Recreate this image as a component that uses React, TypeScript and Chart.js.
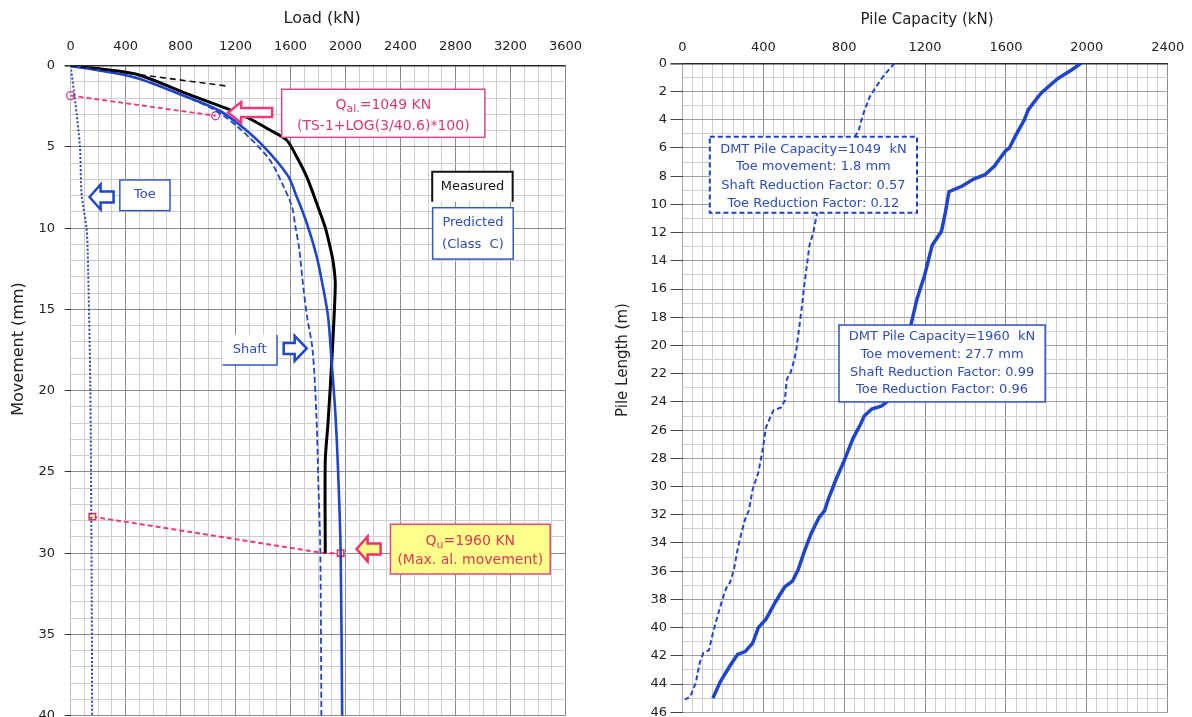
import React, { useEffect, useRef } from "react";
import { Chart, registerables } from "chart.js";

Chart.register(...registerables);

const FONT = '"DejaVu Sans", Verdana, sans-serif';

// ---------------- Left chart : Load (kN) vs Movement (mm) ----------------
const loadMin = 0;
const loadMax = 3600;
const loadLabelStep = 400;
const loadMinorStep = 100;
const moveMin = 0;
const moveMax = 40;
const moveLabelStep = 5;
const moveMinorStep = 1;

const measuredLoad = [0, 465, 854, 1133, 1300, 1450, 1571, 1644, 1717, 1790, 1850, 1887, 1911, 1925, 1900, 1872, 1852, 1852];
const measuredMove = [0, 0.5, 1.75, 2.63, 3.25, 3.96, 4.57, 5.6, 6.83, 8.47, 9.9, 11.14, 12.16, 13.5, 18.1, 22.0, 24.3, 30.0];

const predictedLoad = [0, 465, 800, 1077, 1217, 1384, 1579, 1644, 1692, 1741, 1790, 1826, 1872, 1900, 1927, 1947, 1964, 1975];
const predictedMove = [0, 0.72, 1.77, 2.74, 3.56, 4.8, 6.75, 8.06, 9.08, 10.3, 11.75, 13.2, 15.4, 18.4, 21.6, 25.3, 29.9, 40];

const shaftLoad = [0, 465, 800, 1050, 1217, 1440, 1550, 1610, 1635, 1663, 1692, 1719, 1760, 1788, 1802, 1816, 1824];
const shaftMove = [0, 0.72, 1.77, 2.74, 3.77, 5.7, 7.45, 8.68, 9.9, 11.3, 13.6, 15.4, 17.5, 21.6, 25.7, 29.8, 40];

const toeLoad = [0, 32, 68, 80, 116, 124, 143, 152, 157];
const toeMove = [0, 2.1, 5, 7.9, 10, 11.3, 19.5, 29.9, 40];

const tangentLoad = [0, 1135];
const tangentMove = [0, 1.25];

const qalLoad = [0, 1055];
const qalMove = [1.84, 3.08];

const quLoad = [158, 1850, 1964];
const quMove = [27.75, 30, 30];

// ---------------- Right chart : Pile Capacity (kN) vs Pile Length (m) ----------------
const capMin = 0;
const capMax = 2400;
const capLabelStep = 400;
const capMinorStep = 50;
const lenMin = 0;
const lenMax = 46;
const lenLabelStep = 2;
const lenMinorStep = 1;

const cap1960Load = [1971, 1924, 1859, 1822, 1775, 1747, 1710, 1691, 1645, 1617, 1598, 1542, 1496, 1440, 1384, 1318, 1300, 1281, 1235, 1197, 1160, 1132, 1011, 983, 936, 899, 880, 843, 796, 759, 721, 703, 675, 637, 600, 572, 544, 506, 459, 413, 375, 347, 310, 272, 235, 188, 150];
const cap1960Depth = [0, 0.47, 1.06, 1.5, 2.1, 2.6, 3.3, 4.0, 5.2, 6.0, 6.2, 7.3, 7.9, 8.2, 8.7, 9.1, 10.6, 11.9, 12.9, 15.06, 16.7, 18.4, 24.0, 24.3, 24.5, 25.0, 25.6, 26.6, 28.3, 29.5, 30.9, 31.7, 32.2, 33.3, 34.7, 35.9, 36.7, 37.1, 38.2, 39.4, 40.0, 41.1, 41.7, 41.9, 42.7, 43.8, 45.0];

const cap1049Load = [1048, 1020, 992, 964, 927, 908, 890, 871, 852, 666, 647, 628, 615, 600, 591, 563, 555, 535, 516, 506, 488, 450, 431, 413, 394, 375, 347, 328, 310, 291, 272, 254, 235, 216, 197, 169, 150, 131, 103, 85, 66, 38, 12];
const cap1049Depth = [0, 0.47, 0.94, 1.53, 2.35, 3.06, 3.76, 4.8, 5.2, 10.6, 12.0, 12.9, 14.35, 16.0, 17.2, 20.3, 20.9, 21.9, 22.4, 23.9, 24.4, 24.6, 25.2, 25.8, 27.6, 29.0, 30.2, 31.7, 32.3, 33.3, 34.5, 35.9, 36.8, 37.2, 38.0, 39.4, 40.4, 41.6, 41.8, 42.5, 43.9, 44.9, 45.1];

// ---------------- annotation anchors (data units) ----------------
const QAL_BOX = { x0: 1535, x1: 3013, y0: 1.45, y1: 4.41 };
const QAL_ARROW = { x: 1146, y: 2.88 };
const MEAS_BOX = { x0: 2630, x1: 3215, y0: 6.52, y1: 8.37 };
const PRED_BOX = { x0: 2633, x1: 3219, y0: 8.74, y1: 11.9 };
const TOE_BOX = { x0: 358, x1: 723, y0: 7.03, y1: 8.92 };
const TOE_ARROW = { x: 138, y: 8.08 };
const SHAFT_BOX = { x0: 1105, x1: 1501, y0: 16.57, y1: 18.42 };
const SHAFT_ARROW = { x: 1717, y: 17.4 };
const QU_BOX = { x0: 2326, x1: 3488, y0: 28.22, y1: 31.28 };
const QU_ARROW = { x: 2080, y: 29.74 };

const DMT1_BOX = { x0: 135, x1: 1160, y0: 5.2, y1: 10.6 };
const DMT2_BOX = { x0: 774, x1: 1794, y0: 18.55, y1: 24.0 };

const DMT1_TEXT = ["DMT Pile Capacity=1049  kN", "Toe movement: 1.8 mm", "Shaft Reduction Factor: 0.57", "Toe Reduction Factor: 0.12"];
const DMT2_TEXT = ["DMT Pile Capacity=1960  kN", "Toe movement: 27.7 mm", "Shaft Reduction Factor: 0.99", "Toe Reduction Factor: 0.96"];

const BLUE = "#1f45cc";
const BLUE_TEXT = "#2d4db8";
const PINK = "#f0387c";
const PINK_TEXT = "#d83a78";

function pts(xs: number[], ys: number[]) {
  return xs.map((x, i) => ({ x, y: ys[i] }));
}

function hollowArrow(
  ctx: CanvasRenderingContext2D,
  tipX: number,
  tipY: number,
  dir: number,
  headLen: number,
  headHalf: number,
  shaftLen: number,
  shaftHalf: number,
  stroke: string,
  fill: string,
  lw: number
) {
  const bx = tipX - dir * headLen;
  const ex = bx - dir * shaftLen;
  ctx.beginPath();
  ctx.moveTo(tipX, tipY);
  ctx.lineTo(bx, tipY - headHalf);
  ctx.lineTo(bx, tipY - shaftHalf);
  ctx.lineTo(ex, tipY - shaftHalf);
  ctx.lineTo(ex, tipY + shaftHalf);
  ctx.lineTo(bx, tipY + shaftHalf);
  ctx.lineTo(bx, tipY + headHalf);
  ctx.closePath();
  ctx.fillStyle = fill;
  ctx.fill();
  ctx.setLineDash([]);
  ctx.lineWidth = lw;
  ctx.strokeStyle = stroke;
  ctx.lineJoin = "miter";
  ctx.stroke();
}

function subText(
  ctx: CanvasRenderingContext2D,
  cx: number,
  cy: number,
  a: string,
  sub: string,
  b: string,
  size: number,
  color: string
) {
  const main = `${size}px ${FONT}`;
  const small = `${Math.round(size * 0.75)}px ${FONT}`;
  ctx.font = main;
  const wa = ctx.measureText(a).width;
  const wb = ctx.measureText(b).width;
  ctx.font = small;
  const ws = ctx.measureText(sub).width;
  let x = cx - (wa + ws + wb) / 2;
  ctx.fillStyle = color;
  ctx.textAlign = "left";
  ctx.textBaseline = "middle";
  ctx.font = main;
  ctx.fillText(a, x, cy);
  x += wa;
  ctx.font = small;
  ctx.fillText(sub, x, cy + size * 0.3);
  x += ws;
  ctx.font = main;
  ctx.fillText(b, x, cy);
}

function boxPx(chart: any, b: { x0: number; x1: number; y0: number; y1: number }) {
  const xs = chart.scales.x;
  const ys = chart.scales.y;
  const x0 = xs.getPixelForValue(b.x0);
  const x1 = xs.getPixelForValue(b.x1);
  const y0 = ys.getPixelForValue(b.y0);
  const y1 = ys.getPixelForValue(b.y1);
  return { x: x0, y: y0, w: x1 - x0, h: y1 - y0, cx: (x0 + x1) / 2 };
}

const leftAnnotations = {
  id: "leftAnnotations",
  afterDatasetsDraw(chart: any) {
    const ctx: CanvasRenderingContext2D = chart.ctx;
    const xs = chart.scales.x;
    const ys = chart.scales.y;
    ctx.save();
    ctx.setLineDash([]);

    // Qal box
    let b = boxPx(chart, QAL_BOX);
    ctx.fillStyle = "#ffffff";
    ctx.fillRect(b.x, b.y, b.w, b.h);
    ctx.strokeStyle = "#d9488a";
    ctx.lineWidth = 1.5;
    ctx.strokeRect(b.x, b.y, b.w, b.h);
    subText(ctx, b.cx, ys.getPixelForValue(2.42), "Q", "al.", "=1049 KN", 14, PINK_TEXT);
    ctx.font = `14px ${FONT}`;
    ctx.textAlign = "center";
    ctx.textBaseline = "middle";
    ctx.fillStyle = PINK_TEXT;
    ctx.fillText("(TS-1+LOG(3/40.6)*100)", b.cx, ys.getPixelForValue(3.75));
    hollowArrow(ctx, xs.getPixelForValue(QAL_ARROW.x), ys.getPixelForValue(QAL_ARROW.y), -1, 13, 10.5, 31, 4.5, PINK, "#ffffff", 2.5);

    // Measured box (open bottom)
    b = boxPx(chart, MEAS_BOX);
    ctx.fillStyle = "#ffffff";
    ctx.fillRect(b.x, b.y, b.w, b.h);
    ctx.strokeStyle = "#111111";
    ctx.lineWidth = 2;
    ctx.beginPath();
    ctx.moveTo(b.x, b.y + b.h);
    ctx.lineTo(b.x, b.y);
    ctx.lineTo(b.x + b.w, b.y);
    ctx.lineTo(b.x + b.w, b.y + b.h);
    ctx.stroke();
    ctx.font = `13px ${FONT}`;
    ctx.fillStyle = "#111111";
    ctx.textAlign = "center";
    ctx.textBaseline = "middle";
    ctx.fillText("Measured", b.cx, ys.getPixelForValue(7.45));

    // Predicted box
    b = boxPx(chart, PRED_BOX);
    ctx.fillStyle = "#ffffff";
    ctx.fillRect(b.x, b.y, b.w, b.h);
    ctx.strokeStyle = "#3358c8";
    ctx.lineWidth = 1.5;
    ctx.strokeRect(b.x, b.y, b.w, b.h);
    ctx.fillStyle = BLUE_TEXT;
    ctx.fillText("Predicted", b.cx, ys.getPixelForValue(9.66));
    ctx.fillText("(Class  C)", b.cx, ys.getPixelForValue(10.99));

    // Toe box
    b = boxPx(chart, TOE_BOX);
    ctx.fillStyle = "#ffffff";
    ctx.fillRect(b.x, b.y, b.w, b.h);
    ctx.strokeStyle = "#3358c8";
    ctx.lineWidth = 1.5;
    ctx.strokeRect(b.x, b.y, b.w, b.h);
    ctx.fillStyle = BLUE_TEXT;
    ctx.fillText("Toe", b.cx, ys.getPixelForValue(7.96));
    hollowArrow(ctx, xs.getPixelForValue(TOE_ARROW.x), ys.getPixelForValue(TOE_ARROW.y), -1, 11, 12.5, 13, 5.5, BLUE, "#ffffff", 2.5);

    // Shaft box (right + bottom border)
    b = boxPx(chart, SHAFT_BOX);
    ctx.fillStyle = "#ffffff";
    ctx.fillRect(b.x, b.y, b.w, b.h);
    ctx.strokeStyle = "#3358c8";
    ctx.lineWidth = 1.5;
    ctx.beginPath();
    ctx.moveTo(b.x, b.y + b.h);
    ctx.lineTo(b.x + b.w, b.y + b.h);
    ctx.lineTo(b.x + b.w, b.y);
    ctx.stroke();
    ctx.fillStyle = BLUE_TEXT;
    ctx.fillText("Shaft", b.cx, ys.getPixelForValue(17.46));
    hollowArrow(ctx, xs.getPixelForValue(SHAFT_ARROW.x), ys.getPixelForValue(SHAFT_ARROW.y), 1, 12, 12.5, 11, 5.5, BLUE, "#ffffff", 2.5);

    // Qu box
    b = boxPx(chart, QU_BOX);
    ctx.fillStyle = "#ffff8a";
    ctx.fillRect(b.x, b.y, b.w, b.h);
    ctx.strokeStyle = "#e8467e";
    ctx.lineWidth = 1.5;
    ctx.strokeRect(b.x, b.y, b.w, b.h);
    subText(ctx, b.cx, ys.getPixelForValue(29.25), "Q", "u", "=1960 KN", 14, "#e0385a");
    ctx.font = `14px ${FONT}`;
    ctx.textAlign = "center";
    ctx.textBaseline = "middle";
    ctx.fillStyle = "#e0385a";
    ctx.fillText("(Max. al. movement)", b.cx, ys.getPixelForValue(30.42));
    hollowArrow(ctx, xs.getPixelForValue(QU_ARROW.x), ys.getPixelForValue(QU_ARROW.y), -1, 11, 12.5, 13, 5.5, "#f0306a", "#ffff8a", 2.5);

    ctx.restore();
  },
  afterDraw(chart: any) {
    const ctx: CanvasRenderingContext2D = chart.ctx;
    const a = chart.chartArea;
    ctx.save();
    ctx.fillStyle = "#222222";
    ctx.font = `16px ${FONT}`;
    ctx.textAlign = "center";
    ctx.textBaseline = "middle";
    ctx.fillText("Load (kN)", (a.left + a.right) / 2 + 4, 19);
    ctx.translate(19, 349);
    ctx.rotate(-Math.PI / 2);
    ctx.fillText("Movement (mm)", 0, 0);
    ctx.restore();
  },
};

const rightAnnotations = {
  id: "rightAnnotations",
  afterDatasetsDraw(chart: any) {
    const ctx: CanvasRenderingContext2D = chart.ctx;
    const ys = chart.scales.y;
    ctx.save();

    const drawBox = (box: any, lines: string[], dashed: boolean, lineYs: number[]) => {
      const b = boxPx(chart, box);
      ctx.fillStyle = "#ffffff";
      ctx.fillRect(b.x, b.y, b.w, b.h);
      ctx.strokeStyle = dashed ? "#2040b8" : "#3050c0";
      ctx.lineWidth = dashed ? 2 : 1.5;
      ctx.setLineDash(dashed ? [5, 3] : []);
      ctx.strokeRect(b.x, b.y, b.w, b.h);
      ctx.setLineDash([]);
      ctx.font = `13px ${FONT}`;
      ctx.fillStyle = BLUE_TEXT;
      ctx.textAlign = "center";
      ctx.textBaseline = "middle";
      lines.forEach((t, i) => ctx.fillText(t, b.cx, ys.getPixelForValue(lineYs[i])));
    };
    drawBox(DMT1_BOX, DMT1_TEXT, true, [6.1, 7.33, 8.68, 9.97]);
    drawBox(DMT2_BOX, DMT2_TEXT, false, [19.38, 20.67, 21.9, 23.15]);
    ctx.restore();
  },
  afterDraw(chart: any) {
    const ctx: CanvasRenderingContext2D = chart.ctx;
    const a = chart.chartArea;
    ctx.save();
    ctx.fillStyle = "#222222";
    ctx.font = `15px ${FONT}`;
    ctx.textAlign = "center";
    ctx.textBaseline = "middle";
    ctx.fillText("Pile Capacity (kN)", (a.left + a.right) / 2 + 2, 20);
    ctx.translate(23.5, 360);
    ctx.rotate(-Math.PI / 2);
    ctx.fillText("Pile Length (m)", 0, 0);
    ctx.restore();
  },
};

const TICK_FONT = { family: FONT, size: 13 };

function leftConfig(): any {
  return {
    type: "scatter",
    data: {
      datasets: [
        {
          label: "Tangent",
          data: pts(tangentLoad, tangentMove),
          showLine: true,
          borderColor: "#111111",
          borderWidth: 1.6,
          borderDash: [6, 4],
          pointRadius: 0,
        },
        {
          label: "Toe",
          data: pts(toeLoad, toeMove),
          showLine: true,
          borderColor: "#2a44b8",
          borderWidth: 2,
          borderDash: [2, 2],
          pointRadius: 0,
          tension: 0.3,
        },
        {
          label: "Shaft",
          data: pts(shaftLoad, shaftMove),
          showLine: true,
          borderColor: BLUE,
          borderWidth: 1.8,
          borderDash: [6, 3],
          pointRadius: 0,
          tension: 0.3,
        },
        {
          label: "Predicted (Class C)",
          data: pts(predictedLoad, predictedMove),
          showLine: true,
          borderColor: BLUE,
          borderWidth: 2.6,
          pointRadius: 0,
          tension: 0.3,
        },
        {
          label: "Measured",
          data: pts(measuredLoad, measuredMove),
          showLine: true,
          borderColor: "#000000",
          borderWidth: 3,
          pointRadius: 0,
          tension: 0.25,
        },
        {
          label: "Qal construction",
          data: pts(qalLoad, qalMove),
          showLine: true,
          borderColor: PINK,
          borderWidth: 1.8,
          borderDash: [5, 3],
          pointRadius: 4,
          pointStyle: "circle",
          pointBorderColor: "#c8409a",
          pointBorderWidth: 1.3,
          pointBackgroundColor: "rgba(255,255,255,0)",
          clip: 10,
        },
        {
          label: "Qu construction",
          data: pts(quLoad, quMove),
          showLine: true,
          borderColor: PINK,
          borderWidth: 2,
          borderDash: [5, 3],
          pointRadius: [4.5, 0, 4.5],
          pointStyle: "rect",
          pointBorderColor: "#e8306a",
          pointBorderWidth: 1.6,
          pointBackgroundColor: "#ffff99",
          clip: 10,
        },
      ],
    },
    options: {
      animation: false,
      responsive: false,
      maintainAspectRatio: false,
      devicePixelRatio: 1,
      layout: { padding: { left: 0, right: 600 - 565.6, top: 0, bottom: 740 - 715.7 } },
      plugins: { legend: { display: false }, tooltip: { enabled: false } },
      scales: {
        x: {
          type: "linear",
          position: "top",
          min: loadMin,
          max: loadMax,
          ticks: {
            stepSize: loadMinorStep,
            autoSkip: false,
            maxRotation: 0,
            padding: 11,
            font: TICK_FONT,
            color: "#222222",
            callback: (v: number) => (v % loadLabelStep === 0 ? String(v) : ""),
          },
          grid: {
            drawTicks: false,
            color: (c: any) => {
              const v = c.tick ? c.tick.value : 1;
              if (v === 0) return "#c0c0c0";
              return v % loadLabelStep === 0 ? "#8a8a8a" : "#cfcfcf";
            },
          },
          border: { display: false },
          afterFit: (s: any) => {
            s.height = 65.7;
          },
        },
        y: {
          type: "linear",
          reverse: true,
          min: moveMin,
          max: moveMax,
          ticks: {
            stepSize: moveMinorStep,
            autoSkip: false,
            padding: 9.5,
            font: TICK_FONT,
            color: "#222222",
            callback: (v: number) => (v % moveLabelStep === 0 ? String(v) : ""),
          },
          grid: {
            drawTicks: true,
            tickLength: 6,
            color: (c: any) => {
              const v = c.tick ? c.tick.value : 1;
              if (v === 0) return "#2a2a2a";
              return v % moveLabelStep === 0 ? "#8a8a8a" : "#cfcfcf";
            },
            lineWidth: (c: any) => (c.tick && c.tick.value === 0 ? 1.6 : 1),
            tickColor: (c: any) =>
              c.tick && c.tick.value % moveLabelStep === 0 ? "#333333" : "rgba(0,0,0,0)",
          },
          border: { display: false },
          afterFit: (s: any) => {
            s.width = 70.6;
          },
        },
      },
    },
    plugins: [leftAnnotations],
  };
}

function rightConfig(): any {
  return {
    type: "scatter",
    data: {
      datasets: [
        {
          label: "DMT Pile Capacity=1049 kN",
          data: pts(cap1049Load, cap1049Depth),
          showLine: true,
          borderColor: BLUE,
          borderWidth: 2,
          borderDash: [5, 3],
          pointRadius: 0,
        },
        {
          label: "DMT Pile Capacity=1960 kN",
          data: pts(cap1960Load, cap1960Depth),
          showLine: true,
          borderColor: BLUE,
          borderWidth: 3.5,
          pointRadius: 0,
        },
      ],
    },
    options: {
      animation: false,
      responsive: false,
      maintainAspectRatio: false,
      devicePixelRatio: 1,
      layout: { padding: { left: 0, right: 610 - 567.7, top: 0, bottom: 740 - 712.3 } },
      plugins: { legend: { display: false }, tooltip: { enabled: false } },
      scales: {
        x: {
          type: "linear",
          position: "top",
          min: capMin,
          max: capMax,
          ticks: {
            stepSize: capMinorStep,
            autoSkip: false,
            maxRotation: 0,
            padding: 7.5,
            font: TICK_FONT,
            color: "#222222",
            callback: (v: number) => (v % capLabelStep === 0 ? String(v) : ""),
          },
          grid: {
            drawTicks: false,
            color: (c: any) => {
              const v = c.tick ? c.tick.value : 1;
              if (v === 0) return "#a8a8a8";
              return v % capLabelStep === 0 ? "#8a8a8a" : "#cfcfcf";
            },
          },
          border: { display: false },
          afterFit: (s: any) => {
            s.height = 63.3;
          },
        },
        y: {
          type: "linear",
          reverse: true,
          min: lenMin,
          max: lenMax,
          ticks: {
            stepSize: lenMinorStep,
            autoSkip: false,
            padding: 3.5,
            font: TICK_FONT,
            color: "#222222",
            callback: (v: number) => (v % lenLabelStep === 0 ? String(v) : ""),
          },
          grid: {
            drawTicks: true,
            tickLength: 12,
            color: (c: any) => {
              const v = c.tick ? c.tick.value : 1;
              if (v === 0) return "#2a2a2a";
              return v % lenLabelStep === 0 ? "#a0a0a0" : "#d0d0d0";
            },
            lineWidth: (c: any) => (c.tick && c.tick.value === 0 ? 1.6 : 1),
            tickColor: (c: any) =>
              c.tick && c.tick.value % lenLabelStep === 0 ? "#444444" : "rgba(0,0,0,0)",
          },
          border: { display: false },
          afterFit: (s: any) => {
            s.width = 82.5;
          },
        },
      },
    },
    plugins: [rightAnnotations],
  };
}

export default function App() {
  const leftRef = useRef<HTMLCanvasElement>(null);
  const rightRef = useRef<HTMLCanvasElement>(null);

  useEffect(() => {
    const c1 = new Chart(leftRef.current as HTMLCanvasElement, leftConfig());
    const c2 = new Chart(rightRef.current as HTMLCanvasElement, rightConfig());
    return () => {
      c1.destroy();
      c2.destroy();
    };
  }, []);

  return (
    <div
      style={{
        position: "absolute",
        left: 0,
        top: 0,
        width: 1192,
        height: 717,
        overflow: "hidden",
        background: "#ffffff",
      }}
    >
      <canvas
        ref={leftRef}
        width={600}
        height={740}
        style={{ position: "absolute", left: 0, top: 0, width: 600, height: 740 }}
      />
      <canvas
        ref={rightRef}
        width={610}
        height={740}
        style={{ position: "absolute", left: 600, top: 0, width: 610, height: 740 }}
      />
    </div>
  );
}
